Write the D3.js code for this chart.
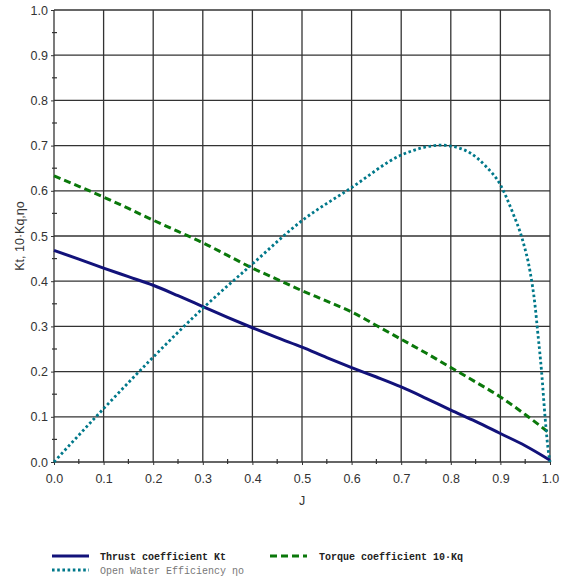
<!DOCTYPE html>
<html>
<head>
<meta charset="utf-8">
<script src="https://cdn.jsdelivr.net/npm/d3@7"></script>
<style>
  body { margin: 0; background: #fff; }
  svg { display: block; }
</style>
</head>
<body>
<svg id="chart"></svg>
<script>
var width = 564;
var height = 581;
var margin = ({top: 10, right: 14, bottom: 119, left: 54});

// data
var ktJ   = [0, 0.05, 0.1, 0.15, 0.2, 0.25, 0.3, 0.35, 0.4, 0.45, 0.5, 0.55, 0.6, 0.65, 0.7, 0.75, 0.8, 0.85, 0.9, 0.95, 1.0];
var ktVal = [0.468, 0.449, 0.429, 0.41, 0.391, 0.368, 0.344, 0.32, 0.297, 0.275, 0.254, 0.231, 0.209, 0.188, 0.166, 0.141, 0.115, 0.09, 0.063, 0.036, 0.004];

var kqJ   = [0, 0.05, 0.1, 0.15, 0.2, 0.25, 0.3, 0.35, 0.4, 0.45, 0.5, 0.55, 0.6, 0.65, 0.7, 0.75, 0.8, 0.85, 0.9, 0.95, 1.0];
var kqVal = [0.633, 0.61, 0.586, 0.561, 0.535, 0.51, 0.485, 0.457, 0.429, 0.404, 0.379, 0.356, 0.332, 0.302, 0.2715, 0.241, 0.209, 0.177, 0.144, 0.105, 0.063];

var etaJ   = [0, 0.1, 0.2, 0.3, 0.4, 0.5, 0.6, 0.7, 0.75, 0.78, 0.8, 0.84, 0.87, 0.9, 0.925, 0.945, 0.96, 0.97, 0.975, 0.983, 0.99, 0.996, 1.0];
var etaVal = [0, 0.118, 0.232, 0.34, 0.438, 0.534, 0.607, 0.679, 0.697, 0.701, 0.699, 0.683, 0.655, 0.613, 0.551, 0.49, 0.42, 0.345, 0.29, 0.2, 0.1, 0.03, 0];

var majorTicks = d3.range(0, 11).map(d => d / 10);
var minorTicks = d3.range(0, 10).map(d => d / 10 + 0.05);

var legendItems = [
  {label: "Thrust coefficient Kt", key: "kt"},
  {label: "Torque coefficient 10\u00B7Kq", key: "kq"},
  {label: "Open Water Efficiency \u03B7o", key: "eta"}
];

var style = {
  kt:  {color: "#12127a", dash: null,      w: 3,   weight: "bold",   text: "#222"},
  kq:  {color: "#0a780a", dash: "7,4",     w: 3,   weight: "bold",   text: "#222"},
  eta: {color: "#00788a", dash: "2.6,2.6", w: 2.8, weight: "normal", text: "#777"}
};

var x = d3.scaleLinear().domain([0, 1]).range([margin.left, width - margin.right]);
var y = d3.scaleLinear().domain([0, 1]).range([height - margin.bottom, margin.top]);

var svg = d3.select("#chart")
  .attr("width", width)
  .attr("height", height)
  .attr("viewBox", [0, 0, width, height]);

// grid
svg.append("g")
  .selectAll("line")
  .data(majorTicks)
  .join("line")
  .attr("x1", d => x(d)).attr("x2", d => x(d))
  .attr("y1", y(0)).attr("y2", y(1))
  .attr("stroke", "#333").attr("stroke-width", 1.3);

svg.append("g")
  .selectAll("line")
  .data(majorTicks)
  .join("line")
  .attr("y1", d => y(d)).attr("y2", d => y(d))
  .attr("x1", x(0)).attr("x2", x(1))
  .attr("stroke", "#333").attr("stroke-width", 1.3);

// axes
var xAxis = svg.append("g")
  .attr("transform", `translate(0,${y(0)})`)
  .call(d3.axisBottom(x).tickValues(majorTicks).tickFormat(d3.format(".1f")).tickSize(3).tickPadding(9));
xAxis.select(".domain").remove();

var yAxis = svg.append("g")
  .attr("transform", `translate(${x(0)},0)`)
  .call(d3.axisLeft(y).tickValues(majorTicks).tickFormat(d3.format(".1f")).tickSize(3).tickPadding(3));
yAxis.select(".domain").remove();

[xAxis, yAxis].forEach(g => {
  g.selectAll(".tick line").attr("stroke", "#333");
  g.selectAll(".tick text")
    .attr("fill", "#333")
    .style("font-family", "'Liberation Sans', Arial, sans-serif")
    .style("font-size", "12.5px");
});

// minor ticks crossing the axes
svg.append("g")
  .selectAll("line")
  .data(minorTicks)
  .join("line")
  .attr("x1", d => x(d)).attr("x2", d => x(d))
  .attr("y1", y(0) - 3).attr("y2", y(0) + 2)
  .attr("stroke", "#333").attr("stroke-width", 1.2);

svg.append("g")
  .selectAll("line")
  .data(minorTicks)
  .join("line")
  .attr("y1", d => y(d)).attr("y2", d => y(d))
  .attr("x1", x(0) - 2).attr("x2", x(0) + 3)
  .attr("stroke", "#333").attr("stroke-width", 1.2);

// axis titles
svg.append("text")
  .attr("x", x(0.5))
  .attr("y", 505)
  .attr("text-anchor", "middle")
  .attr("fill", "#333")
  .style("font-family", "'Liberation Sans', Arial, sans-serif")
  .style("font-size", "12.5px")
  .text("J");

svg.append("text")
  .attr("transform", `translate(24,${(y(0) + y(1)) / 2}) rotate(-90)`)
  .attr("text-anchor", "middle")
  .attr("fill", "#333")
  .style("font-family", "'Liberation Sans', Arial, sans-serif")
  .style("font-size", "12.5px")
  .text("Kt, 10\u00B7Kq,\u03B7o");

// curves
var line = d3.line()
  .x(d => x(d[0]))
  .y(d => y(d[1]))
  .curve(d3.curveMonotoneX);

var series = [
  {key: "kt",  pts: d3.zip(ktJ, ktVal)},
  {key: "kq",  pts: d3.zip(kqJ, kqVal)},
  {key: "eta", pts: d3.zip(etaJ, etaVal)}
];

svg.append("g")
  .selectAll("path")
  .data(series)
  .join("path")
  .attr("d", d => line(d.pts))
  .attr("fill", "none")
  .attr("stroke", d => style[d.key].color)
  .attr("stroke-width", d => style[d.key].w)
  .attr("stroke-dasharray", d => style[d.key].dash);

// legend
var legendPos = {kt: [52, 556], kq: [270, 556], eta: [52, 570]};

var leg = svg.append("g")
  .selectAll("g")
  .data(legendItems)
  .join("g")
  .attr("transform", d => `translate(${legendPos[d.key][0]},${legendPos[d.key][1]})`);

leg.append("line")
  .attr("x1", 0).attr("x2", 37)
  .attr("stroke", d => style[d.key].color)
  .attr("stroke-width", d => style[d.key].w)
  .attr("stroke-dasharray", d => style[d.key].dash);

leg.append("text")
  .attr("x", d => d.key == "kq" ? 49 : 48)
  .attr("y", 4)
  .attr("fill", d => style[d.key].text)
  .style("font-family", "'Liberation Mono', 'Courier New', monospace")
  .style("font-size", "10px")
  .style("font-weight", d => style[d.key].weight)
  .text(d => d.label);
</script>
</body>
</html>
